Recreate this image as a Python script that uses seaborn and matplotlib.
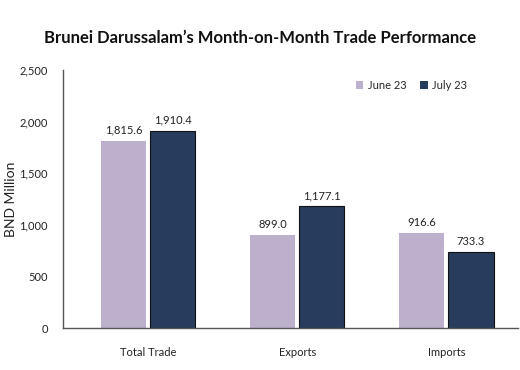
import pandas as pd
import numpy as np
import matplotlib
matplotlib.use("Agg")
import matplotlib.pyplot as plt
import seaborn as sns

# datos
categorias = ["Total Trade", "Exports", "Imports"]
june_23 = [1815.6, 899.0, 916.6]
july_23 = [1910.4, 1177.1, 733.3]
series = ["June 23", "July 23"]

df = pd.DataFrame({
    "Categoria": categorias * 2,
    "Valor": june_23 + july_23,
    "Mes": [series[0]] * 3 + [series[1]] * 3,
})

sns.set_theme(style="white")
plt.rcParams['font.family'] = ['Lato', 'DejaVu Sans']

fig = plt.figure(figsize=(5.2, 3.7), dpi=100)
ax = fig.add_axes([0.121, 0.1135, 0.875, 0.6975])

colores = {"June 23": "#BBABD2", "July 23": "#1F3A66"}
sns.barplot(data=df, x="Categoria", y="Valor", hue="Mes", palette=colores,
            width=0.66, gap=0.08, ax=ax, edgecolor="none")

# borde negro solo para julio
for p in ax.containers[1]:
    p.set_edgecolor("#111111")
    p.set_linewidth(0.8)

for cont in ax.containers:
    ax.bar_label(cont, labels=[f"{v:,.1f}" for v in cont.datavalues],
                 padding=4, fontsize=8, color="#222222")

ax.set_ylim(0, 2500)
ax.set_yticks(np.arange(0, 2501, 500))
ax.set_yticklabels([f"{v:,}" for v in range(0, 2501, 500)])
ax.set_xlim(-0.57, 2.48)
ax.set_xlabel("")
ax.set_ylabel("BND Million", fontsize=10, color="#222222")
ax.yaxis.set_label_coords(-0.1, 0.5)
ax.tick_params(axis="both", length=0, labelsize=8, colors="#222222")
ax.tick_params(axis="x", pad=14)
ax.tick_params(axis="y", pad=11)

for lado in ["top", "right"]:
    ax.spines[lado].set_visible(False)
for lado in ["left", "bottom"]:
    ax.spines[lado].set_color("#555555")
    ax.spines[lado].set_linewidth(1.0)

ax.legend(loc="upper right", bbox_to_anchor=(0.91, 1.0), ncol=2, frameon=False,
          fontsize=8, handlelength=0.7, handleheight=0.7, handletextpad=0.4,
          columnspacing=1.2)

fig.text(0.5, 0.885, "Brunei Darussalam\u2019s Month-on-Month Trade Performance",
         ha="center", fontsize=12, fontweight="bold", color="#111111")

fig.savefig("out.png", dpi=100)
